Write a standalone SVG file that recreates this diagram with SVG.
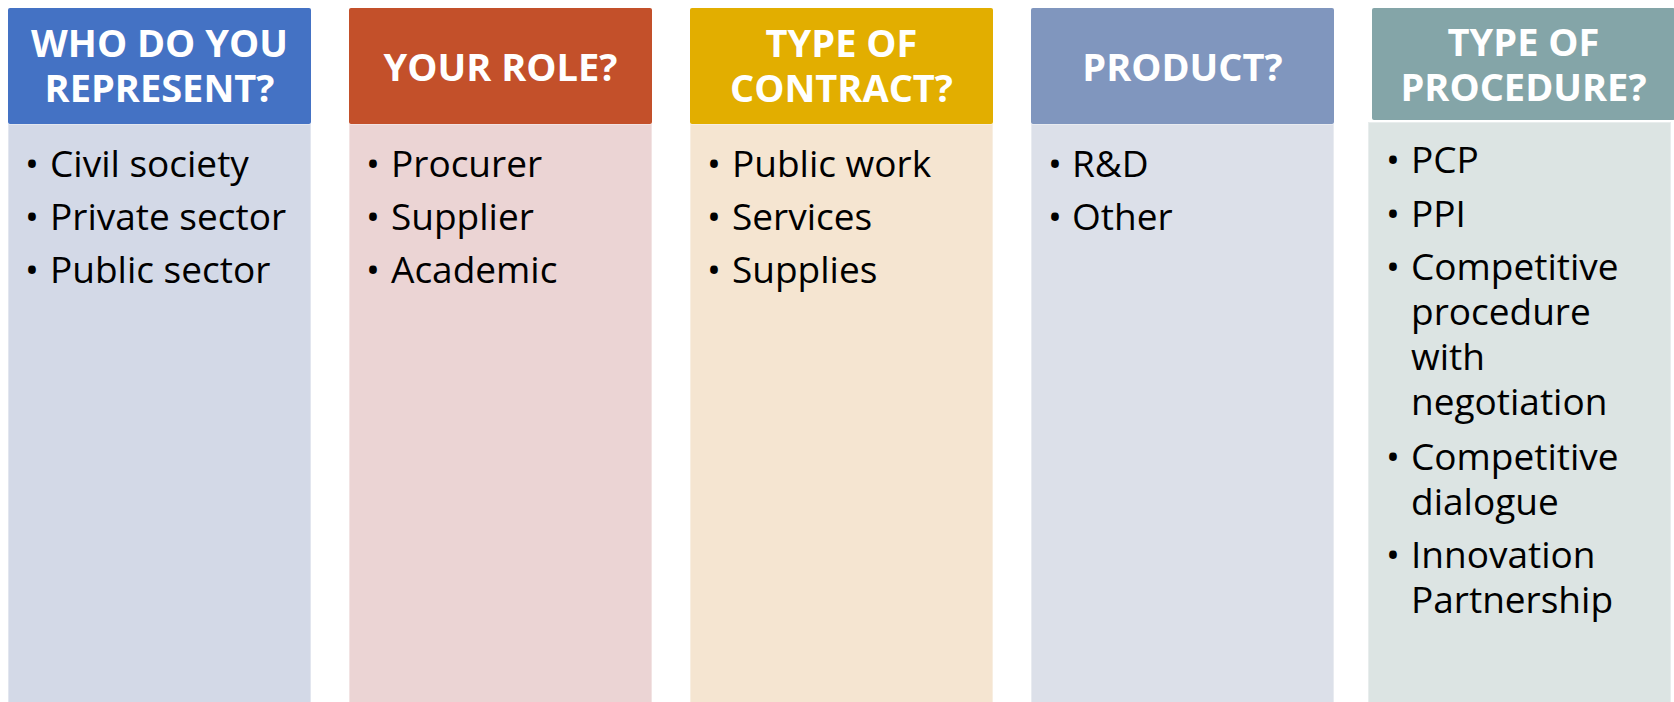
<svg xmlns="http://www.w3.org/2000/svg" width="1674" height="702" viewBox="0 0 1674 702">
<style>
.hd{font-family:"Open Sans","Liberation Sans",sans-serif;font-weight:700;font-size:38px;fill:#FFFFFF;text-anchor:middle}
.it{font-family:"Open Sans","Liberation Sans",sans-serif;font-size:37px;fill:#000000}
.body{stroke:#FFFFFF;stroke-opacity:0.35;stroke-width:2}
</style>
<rect width="1674" height="702" fill="#FFFFFF"/>
<g id="col-represent">
<rect class="body" x="8" y="124" width="303" height="590" fill="#D3D9E7"/>
<rect x="8" y="8" width="303" height="116" rx="2" fill="#4472C4"/>
<text class="hd" x="159.5" y="57">WHO DO YOU</text>
<text class="hd" x="159.5" y="102">REPRESENT?</text>
<text class="it" y="176.7"><tspan x="25">•</tspan><tspan x="50">Civil society</tspan></text>
<text class="it" y="230"><tspan x="25">•</tspan><tspan x="50">Private sector</tspan></text>
<text class="it" y="283.3"><tspan x="25">•</tspan><tspan x="50">Public sector</tspan></text>
</g>
<g id="col-role">
<rect class="body" x="349" y="124" width="303" height="590" fill="#EBD4D4"/>
<rect x="349" y="8" width="303" height="116" rx="2" fill="#C3502A"/>
<text class="hd" x="500.5" y="80.5">YOUR ROLE?</text>
<text class="it" y="176.7"><tspan x="366">•</tspan><tspan x="391">Procurer</tspan></text>
<text class="it" y="230"><tspan x="366">•</tspan><tspan x="391">Supplier</tspan></text>
<text class="it" y="283.3"><tspan x="366">•</tspan><tspan x="391">Academic</tspan></text>
</g>
<g id="col-contract">
<rect class="body" x="690" y="124" width="303" height="590" fill="#F5E5D1"/>
<rect x="690" y="8" width="303" height="116" rx="2" fill="#E2AE00"/>
<text class="hd" x="841.5" y="57">TYPE OF</text>
<text class="hd" x="841.5" y="102">CONTRACT?</text>
<text class="it" y="176.7"><tspan x="707">•</tspan><tspan x="732">Public work</tspan></text>
<text class="it" y="230"><tspan x="707">•</tspan><tspan x="732">Services</tspan></text>
<text class="it" y="283.3"><tspan x="707">•</tspan><tspan x="732">Supplies</tspan></text>
</g>
<g id="col-product">
<rect class="body" x="1031" y="124" width="303" height="590" fill="#DCE0E9"/>
<rect x="1031" y="8" width="303" height="116" rx="2" fill="#8096BE"/>
<text class="hd" x="1182.5" y="80.5">PRODUCT?</text>
<text class="it" y="176.7"><tspan x="1048">•</tspan><tspan x="1072">R&amp;D</tspan></text>
<text class="it" y="230"><tspan x="1048">•</tspan><tspan x="1072">Other</tspan></text>
</g>
<g id="col-procedure">
<rect class="body" x="1368" y="122" width="303" height="592" fill="#DCE4E3"/>
<rect x="1372" y="8" width="303" height="112" rx="2" fill="#84A5A8"/>
<text class="hd" x="1523.5" y="55.5">TYPE OF</text>
<text class="hd" x="1523.5" y="100.5">PROCEDURE?</text>
<text class="it" y="172.7"><tspan x="1386">•</tspan><tspan x="1411">PCP</tspan></text>
<text class="it" y="226.7"><tspan x="1386">•</tspan><tspan x="1411">PPI</tspan></text>
<text class="it" y="280"><tspan x="1386">•</tspan><tspan x="1411">Competitive</tspan></text>
<text class="it" x="1411" y="325">procedure</text>
<text class="it" x="1411" y="370">with</text>
<text class="it" x="1411" y="415">negotiation</text>
<text class="it" y="470"><tspan x="1386">•</tspan><tspan x="1411">Competitive</tspan></text>
<text class="it" x="1411" y="515">dialogue</text>
<text class="it" y="568.3"><tspan x="1386">•</tspan><tspan x="1411">Innovation</tspan></text>
<text class="it" x="1411" y="613.3">Partnership</text>
</g>
<g id="connectors"/>
</svg>
